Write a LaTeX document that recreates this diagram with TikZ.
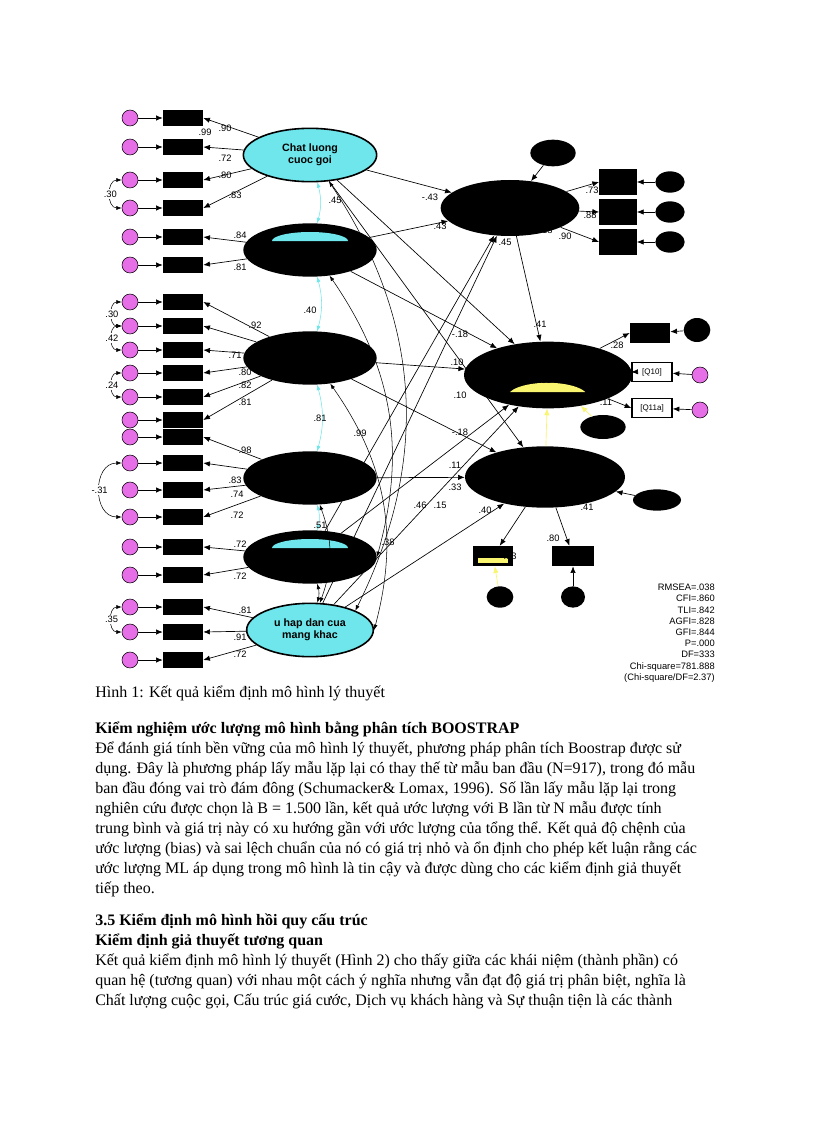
\documentclass[tikz,border=0pt]{standalone}
\usepackage{fontspec}
\setmainfont{Liberation Serif}
\newfontfamily\arialf{Liberation Sans}
\usetikzlibrary{arrows.meta,shapes.geometric}
\definecolor{cy}{RGB}{110,230,235}
\definecolor{pk}{RGB}{230,110,230}
\definecolor{yl}{RGB}{250,245,110}
\tikzset{
 lat/.style={ellipse,fill=black,minimum width=100,minimum height=40,inner sep=0},
 latc/.style={ellipse,fill=cy,draw=black,line width=1.2,minimum width=100,minimum height=40,inner sep=0,font=\arialf\bfseries\fontsize{8}{9}\selectfont,align=center},
 ind/.style={rectangle,fill=black,minimum width=30,minimum height=12,inner sep=0},
 err/.style={circle,fill=pk,draw=black,minimum size=12,inner sep=0},
 errb/.style={ellipse,fill=black,minimum width=28,minimum height=16,inner sep=0},
 arr/.style={-{Latex[length=5pt,width=4pt]},line width=0.5},
 num/.style={font=\arialf\fontsize{7}{8}\selectfont,inner sep=1},
 txt/.style={anchor=base west,inner sep=0,font=\fontsize{12}{14}\selectfont},
 btxt/.style={txt,font=\fontsize{12}{14}\selectfont\bfseries}
}
\begin{document}
\begin{tikzpicture}[x=0.75pt,y=-0.75pt]
\useasboundingbox (0,0) rectangle (816,1123);
\fill[white] (0,0) rectangle (816,1123);
% left latents
\node[latc] (L1) at (310,155) {Chat luong\\cuoc goi};
\node[lat] (L2) at (310,250) {};
\node[lat] (L3) at (310,358) {};
\node[lat] (L4) at (310,478) {};
\node[lat] (L5) at (310,557) {};
\node[latc,minimum width=95] (L6) at (310,630) {u hap dan cua\\mang khac};
\fill[cy] (272,241) arc (180:360:38 and 9) -- cycle;
\fill[cy] (272,548) arc (180:360:38 and 9) -- cycle;
% right latents
\node[lat,minimum width=104,minimum height=42] (R1) at (510,208) {};
\node[errb,minimum width=34,minimum height=20] (D1) at (553,153) {};
\node[lat,minimum width=126,minimum height=50] (R2) at (548,375) {};
\fill[yl] (510,392) arc (200:340:40 and 14) -- cycle;
\node[lat,minimum width=120,minimum height=46] (R3) at (545,477) {};
\node[errb,minimum width=36,minimum height=16] (D3) at (657,500) {};
\node[errb,minimum width=34,minimum height=18] (D2) at (603,427) {};
% left indicators
\foreach \y/\l [count=\i] in {118/L1,147/L1,180/L1,208/L1,237/L2,265/L2,302/L3,326/L3,350/L3,373/L3,397/L3,420/L3,437/L4,463/L4,490/L4,517/L4,547/L5,575/L5,607/L6,632/L6,660/L6}{
 \node[ind] (x\i) at (183,\y) {};
 \node[err] (e\i) at (130,\y) {};
 \draw[arr] (e\i) -- (x\i);
 \draw[arr] (\l) -- (x\i.east);
}
% error covariances
\foreach \a/\b/\lab in {3/4/.30,7/8/.30,8/9/.42,10/11/.24,14/16/-.31,19/20/.35}{
 \draw[{Latex[length=4pt]}-{Latex[length=4pt]}] (e\a.west) to[out=180,in=180,looseness=1.4] node[num,fill=white]{\lab} (e\b.west);
}
% right indicators
\foreach \y [count=\i] in {182,212,242}{
 \node[ind,minimum width=28,minimum height=20] (y\i) at (618,\y) {};
 \node[errb,minimum width=22,minimum height=16] (f\i) at (670,\y) {};
 \draw[arr] (f\i) -- (y\i); \draw[arr] (R1) -- (y\i.west);
}
\node[ind,minimum width=30,minimum height=15] (y4) at (650,333) {};
\node[rectangle,draw=black,line width=1,minimum width=30,minimum height=14,inner sep=0,fill=white,font=\arialf\fontsize{6}{6}\selectfont] (y5) at (652,372) {[Q10]};
\node[rectangle,draw=black,line width=1,minimum width=30,minimum height=14,inner sep=0,fill=white,font=\arialf\fontsize{6}{6}\selectfont] (y6) at (652,408) {[Q11a]};
\node[errb,minimum width=20,minimum height=18] (f4) at (697,330) {};
\node[err] (f5) at (700,375) {};
\node[err] (f6) at (700,410) {};
\foreach \i in {4,5,6}{\draw[arr] (f\i) -- (y\i); \draw[arr] (R2) -- (y\i.west);}
\node[ind,minimum width=30,minimum height=15] (y7) at (493,556) {};
\fill[yl] (478,558) rectangle (508,563);
\node[ind,minimum width=32,minimum height=15] (y8) at (573,556) {};
\node[errb,minimum width=20,minimum height=16] (f7) at (500,597) {};
\node[errb,minimum width=18,minimum height=16] (f8) at (573,597) {};
\draw[arr,yl] (f7) -- (y7); \draw[arr] (f8) -- (y8);
\draw[arr] (R3) -- (y7); \draw[arr] (R3) -- (y8);
\draw[arr] (D1) -- (R1); \draw[arr] (D3) -- (R3);
\draw[arr,yl] (D2) -- (R2);
% structural paths
\foreach \a/\b in {L1/R1,L1/R2,L1/R3,L2/R1,L2/R2,L3/R2,L3/R3,L4/R3,L5/R1,L5/R2,L6/R1,L6/R2,L6/R3}{\draw[arr] (\a) -- (\b);}
\draw[arr] (R1) -- (R2);
\draw[arr,yl] (R3) -- (R2);
% covariances among left latents
\foreach \a/\b/\c in {L1/L2/cy,L2/L3/cy,L3/L4/cy,L4/L5/cy,L5/L6/black}{
 \draw[{Latex[length=4pt]}-{Latex[length=4pt]},\c] (\a) to[bend left=15] (\b);}
\draw[{Latex[length=4pt]}-{Latex[length=4pt]}] (L1) to[bend left=30] (L6.north east);
\draw[{Latex[length=4pt]}-{Latex[length=4pt]}] (L3) to[bend left=25] (L6.east);
\draw[{Latex[length=4pt]}-{Latex[length=4pt]}] (L4) to[bend left=20] (L6);
\draw[{Latex[length=4pt]}-{Latex[length=4pt]}] (L2) to[bend left=25] (L5.east);
% some labels
\foreach \x/\y/\t in {205/132/.99,225/128/.90,225/158/.72,225/175/.80,235/195/.83,335/200/.45,240/235/.84,240/267/.81,310/310/.40,255/325/.92,235/355/.71,245/372/.80,245/385/.82,245/402/.81,320/418/.81,245/450/.98,235/480/.83,237/494/.74,237/515/.72,320/525/.51,240/544/.72,240/576/.72,340/575/.38,245/610/.81,240/637/.91,240/654/.72,430/197/-.43,440/226/.43,505/242/.45,460/334/-.18,457/362/.10,460/395/.10,460/432/-.18,455/465/.11,455/487/.33,420/505/.46,440/505/.15,485/510/.40,360/433/.99,388/542/.38,540/324/.41,592/190/.73,590/215/.88,565/236/.90,546/230/.18,617/345/.28,622/367/.99,606/402/.11,510/556/.83,553/538/.80,587/507/.41,545/380/.00,545/465/.17}{\node[num] at (\x,\y) {\t};}
% fit stats
\node[anchor=north east,align=right,inner sep=0,font=\arialf\fontsize{7}{8.4}\selectfont] at (715,584) {RMSEA=.038\\CFI=.860\\TLI=.842\\AGFI=.828\\GFI=.844\\P=.000\\DF=333\\Chi-square=781.888\\(Chi-square/DF=2.37)};
% text
\node[txt] at (95,697) {Hình 1: Kết quả kiểm định mô hình lý thuyết};
\node[btxt] at (95,733) {Kiểm nghiệm ước lượng mô hình bằng phân tích BOOSTRAP};
\foreach \y/\t in {753/{Để đánh giá tính bền vững của mô hình lý thuyết, phương pháp phân tích Boostrap được sử},
773/{dụng. Đây là phương pháp lấy mẫu lặp lại có thay thế từ mẫu ban đầu (N=917), trong đó mẫu},
793/{ban đầu đóng vai trò đám đông (Schumacker\& Lomax, 1996). Số lần lấy mẫu lặp lại trong},
813/{nghiên cứu được chọn là B = 1.500 lần, kết quả ước lượng với B lần từ N mẫu được tính},
833/{trung bình và giá trị này có xu hướng gần với ước lượng của tổng thể. Kết quả độ chệnh của},
853/{ước lượng (bias) và sai lệch chuẩn của nó có giá trị nhỏ và ổn định cho phép kết luận rằng các},
873/{ước lượng ML áp dụng trong mô hình là tin cậy và được dùng cho các kiểm định giả thuyết},
893/{tiếp theo.},
965/{Kết quả kiểm định mô hình lý thuyết (Hình 2) cho thấy giữa các khái niệm (thành phần) có},
985/{quan hệ (tương quan) với nhau một cách ý nghĩa nhưng vẫn đạt độ giá trị phân biệt, nghĩa là},
1005/{Chất lượng cuộc gọi, Cấu trúc giá cước, Dịch vụ khách hàng và Sự thuận tiện là các thành}}{\node[txt] at (95,\y) {\t};}
\node[btxt] at (95,925) {3.5 Kiểm định mô hình hồi quy cấu trúc};
\node[btxt] at (95,945) {Kiểm định giả thuyết tương quan};
\end{tikzpicture}
\end{document}
